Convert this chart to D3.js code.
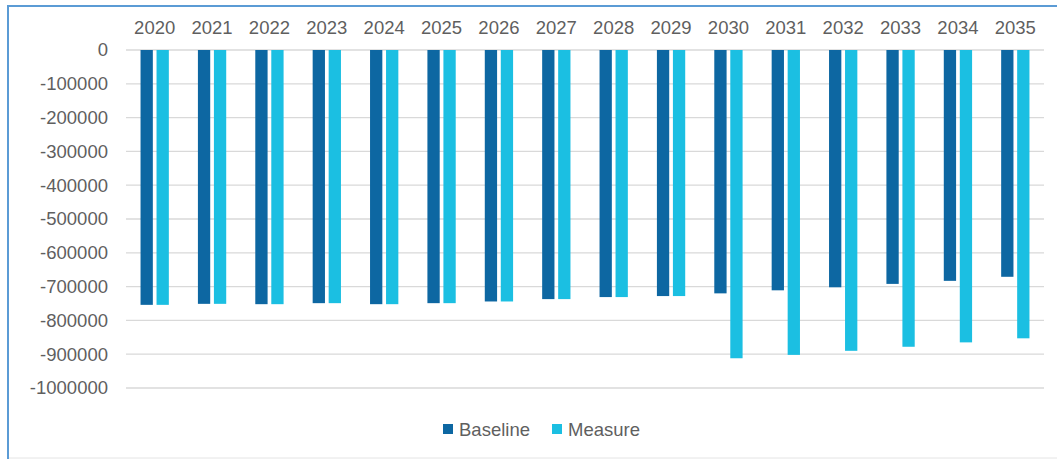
<!DOCTYPE html>
<html><head><meta charset="utf-8">
<script src="https://cdn.jsdelivr.net/npm/d3@7"></script>
<style>
html,body{margin:0;padding:0;background:#fff;}
svg{display:block;font-family:"Liberation Sans",Arial,sans-serif;}
</style></head>
<body><svg id="chart" width="1057" height="459"></svg>
<script>
const years = ["2020","2021","2022","2023","2024","2025","2026","2027","2028","2029","2030","2031","2032","2033","2034","2035"];
const baseline = [-754000,-751000,-752000,-749000,-752000,-749000,-744000,-737000,-731000,-728000,-720000,-711000,-702000,-692000,-683000,-671000];
const measure  = [-754000,-751000,-752000,-749000,-752000,-749000,-744000,-737000,-731000,-728000,-912000,-902000,-890000,-878000,-865000,-853000];
const yTicks = [0,-100000,-200000,-300000,-400000,-500000,-600000,-700000,-800000,-900000,-1000000];
const seriesNames = ["Baseline","Measure"];
const colors = ["#0d67a2","#1bbfe2"];

const svg = d3.select("#chart");
// outer frame
svg.append("rect").attr("x",8).attr("y",6).attr("width",1060).attr("height",470)
  .attr("fill","none").attr("stroke","#5b9bd5").attr("stroke-width",2);
svg.append("line").attr("x1",9).attr("x2",1057).attr("y1",458).attr("y2",458).attr("stroke","#e4e4e4");

const pLeft = 126, pRight = 1044, pTop = 50, pBottom = 388;
const x = d3.scaleBand().domain(years).range([pLeft,pRight]).paddingInner(0).paddingOuter(0);
const y = d3.scaleLinear().domain([0,-1000000]).range([pTop,pBottom]);

const fs = "18.5px", tc = "#5f5f5f";

// grid
svg.append("g").selectAll("line").data(yTicks).join("line")
  .attr("x1",pLeft).attr("x2",pRight).attr("y1",d=>y(d)).attr("y2",d=>y(d))
  .attr("stroke","#d9d9d9").attr("stroke-width",1.3);

// y axis labels
const yAxis = d3.axisLeft(y).tickValues(yTicks).tickSize(0).tickPadding(0).tickFormat(d=>d===0?"0":String(d));
const gy = svg.append("g").attr("transform",`translate(${108},0)`).call(yAxis);
gy.select(".domain").remove();
gy.selectAll("text").attr("fill",tc).style("font-size",fs).style("font-family","Liberation Sans, Arial, sans-serif");

// x axis labels on top
const xAxis = d3.axisTop(x).tickSize(0).tickPadding(0);
const gx = svg.append("g").attr("transform",`translate(0,${34})`).call(xAxis);
gx.select(".domain").remove();
gx.selectAll("text").attr("fill",tc).style("font-size",fs).style("font-family","Liberation Sans, Arial, sans-serif");

const barW = 12.3, gap = 3.7;
const data = [baseline, measure];
data.forEach((vals,si)=>{
  svg.append("g").selectAll("rect").data(vals).join("rect")
    .attr("x",(d,i)=>x(years[i]) + x.bandwidth()/2 - barW - gap/2 + si*(barW+gap))
    .attr("y",y(0))
    .attr("width",barW)
    .attr("height",d=>y(d)-y(0))
    .attr("fill",colors[si]);
});

// legend
const legend = svg.append("g");
const legX = [443, 552];
seriesNames.forEach((n,i)=>{
  legend.append("rect").attr("x",legX[i]).attr("y",424).attr("width",10).attr("height",10).attr("fill",colors[i]);
  legend.append("text").attr("x",legX[i]+16).attr("y",436).text(n)
    .attr("fill",tc).style("font-size",fs);
});
</script></body></html>
